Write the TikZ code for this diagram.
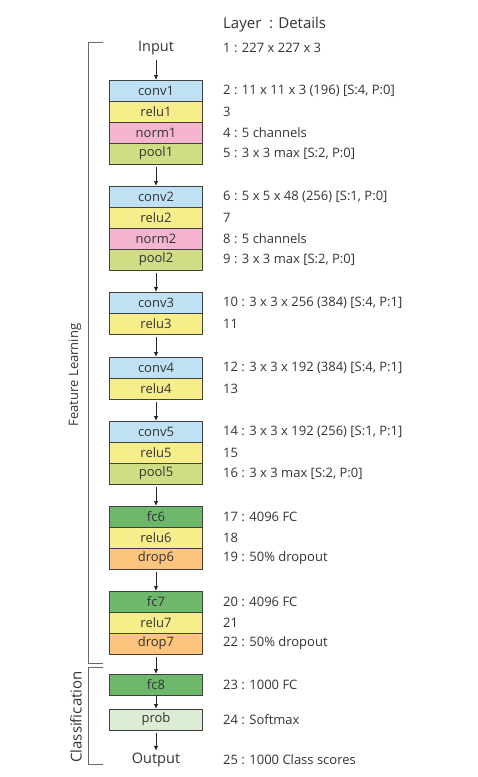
\documentclass[tikz,border=0pt]{standalone}
\usepackage{fontspec}
\setmainfont{Open Sans}
\usepackage{tikz}
\usetikzlibrary{positioning, arrows.meta, calc}

\definecolor{convc}{HTML}{BFE1F3}
\definecolor{reluc}{HTML}{F6EE8A}
\definecolor{normc}{HTML}{F5B5D0}
\definecolor{poolc}{HTML}{CFDD85}
\definecolor{fcc}{HTML}{6DB86B}
\definecolor{dropc}{HTML}{FCC47E}
\definecolor{probc}{HTML}{DDEDD5}
\definecolor{txtc}{HTML}{333333}
\definecolor{brkc}{HTML}{6A6A6A}

\begin{document}
\begin{tikzpicture}[
        x=1pt, y=-1pt,
        every node/.style={text=txtc},
        layer/.style={draw=black!75, line width=0.8pt, minimum width=93pt, minimum height=21pt,
            inner sep=0pt, outer sep=0pt, font=\fontsize{13}{14}\selectfont},
        conv/.style={layer, fill=convc},
        relu/.style={layer, fill=reluc},
        norm/.style={layer, fill=normc},
        pool/.style={layer, fill=poolc},
        fc/.style={layer, fill=fcc},
        drop/.style={layer, fill=dropc},
        prob/.style={layer, fill=probc},
        detail/.style={anchor=west, inner sep=0pt, font=\fontsize{13}{15}\selectfont},
        io/.style={font=\fontsize{14.5}{16}\selectfont, inner sep=2pt},
        arr/.style={-{Latex[length=5pt,width=4.5pt]}, line width=0.8pt, black!85, shorten <=3pt},
        brk/.style={draw=brkc, line width=1pt},
        side/.style={rotate=90, font=\fontsize{13}{15}\selectfont}
    ]
    \useasboundingbox (0,0) rectangle (477,777);

    % header and input
    \node[detail, font=\fontsize{15}{17}\selectfont] (head) at (223,25) {Layer\ \ : Details};
    \node[io] (in) at (156,48) {Input};

    % block 1
    \node[conv] (conv1) at (156,90.5) {conv1};
    \node[relu, below=0pt of conv1] (relu1) {relu1};
    \node[norm, below=0pt of relu1] (norm1) {norm1};
    \node[pool, below=0pt of norm1] (pool1) {pool1};

    % block 2
    \node[conv, below=22pt of pool1] (conv2) {conv2};
    \node[relu, below=0pt of conv2] (relu2) {relu2};
    \node[norm, below=0pt of relu2] (norm2) {norm2};
    \node[pool, below=0pt of norm2] (pool2) {pool2};

    % block 3 and 4
    \node[conv, below=22pt of pool2] (conv3) {conv3};
    \node[relu, below=0pt of conv3] (relu3) {relu3};
    \node[conv, below=23pt of relu3] (conv4) {conv4};
    \node[relu, below=0pt of conv4] (relu4) {relu4};

    % block 5
    \node[conv, below=22pt of relu4] (conv5) {conv5};
    \node[relu, below=0pt of conv5] (relu5) {relu5};
    \node[pool, below=0pt of relu5] (pool5) {pool5};

    % fully connected
    \node[fc, below=22pt of pool5] (fc6) {fc6};
    \node[relu, below=0pt of fc6] (relu6) {relu6};
    \node[drop, below=0pt of relu6] (drop6) {drop6};
    \node[fc, below=22pt of drop6] (fc7) {fc7};
    \node[relu, below=0pt of fc7] (relu7) {relu7};
    \node[drop, below=0pt of relu7] (drop7) {drop7};

    % classification
    \node[fc, below=20pt of drop7] (fc8) {fc8};
    \node[prob, below=14pt of fc8] (prob) {prob};
    \node[io] (out) at (156,760) {Output};

    % arrows
    \draw[arr] (in) -- (conv1);
    \draw[arr] (pool1) -- (conv2);
    \draw[arr] (pool2) -- (conv3);
    \draw[arr] (relu3) -- (conv4);
    \draw[arr] (relu4) -- (conv5);
    \draw[arr] (pool5) -- (fc6);
    \draw[arr] (drop6) -- (fc7);
    \draw[arr] (drop7) -- (fc8);
    \draw[arr, shorten <=1pt] (fc8) -- (prob);
    \draw[arr] (prob) -- (out);

    % details column
    \coordinate (dcol) at (223,0);
    \foreach \b/\t in {in/{1 : 227 x 227 x 3},
            conv1/{2 : 11 x 11 x 3 (196) [S:4, P:0]}, relu1/{3}, norm1/{4 : 5 channels},
            pool1/{5 : 3 x 3 max [S:2, P:0]},
            conv2/{6 : 5 x 5 x 48 (256) [S:1, P:0]}, relu2/{7}, norm2/{8 : 5 channels},
            pool2/{9 : 3 x 3 max [S:2, P:0]},
            conv3/{10 : 3 x 3 x 256 (384) [S:4, P:1]}, relu3/{11},
            conv4/{12 : 3 x 3 x 192 (384) [S:4, P:1]}, relu4/{13},
            conv5/{14 : 3 x 3 x 192 (256) [S:1, P:1]}, relu5/{15},
            pool5/{16 : 3 x 3 max [S:2, P:0]},
            fc6/{17 : 4096 FC}, relu6/{18}, drop6/{19 : 50\% dropout},
            fc7/{20 : 4096 FC}, relu7/{21}, drop7/{22 : 50\% dropout},
            fc8/{23 : 1000 FC}, prob/{24 : Softmax}, out/{25 : 1000 Class scores}}
        \node[detail] (d-\b) at (dcol |- \b) {\t};

    % brackets
    \draw[brk] (103,42) -- (88,42) -- (88,663) -- (103,663);
    \draw[brk] (103,667) -- (88,667) -- (88,764) -- (103,764);
    \node[side] (feat) at (75,375) {Feature Learning};
    \node[side, font=\fontsize{15}{17}\selectfont] (cls) at (76,717) {Classification};

\end{tikzpicture}
\end{document}
